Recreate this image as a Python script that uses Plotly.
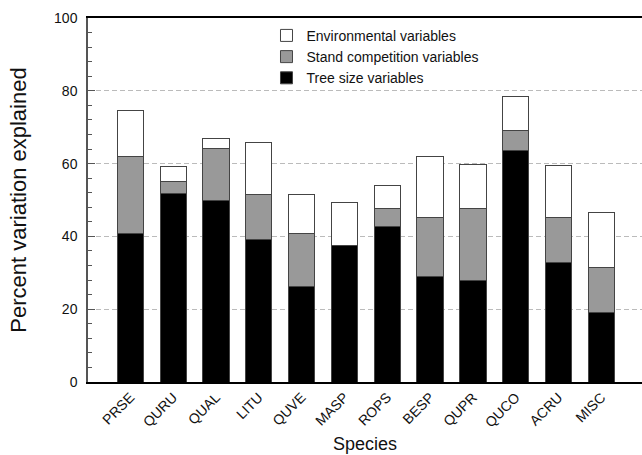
import plotly.graph_objects as go

species = ["PRSE", "QURU", "QUAL", "LITU", "QUVE", "MASP", "ROPS", "BESP", "QUPR", "QUCO", "ACRU", "MISC"]
# cumulative tops
tree_size = [40.8, 51.9, 50.0, 39.1, 26.2, 37.4, 42.6, 29.0, 28.0, 63.5, 32.7, 19.0]
stand_top = [61.9, 55.1, 64.2, 51.6, 40.9, 37.4, 47.7, 45.2, 47.7, 69.1, 45.1, 31.4]
total_top = [74.6, 59.2, 66.9, 65.9, 51.6, 49.2, 54.0, 61.9, 59.8, 78.5, 59.5, 46.6]

stand_comp = [round(s - t, 2) for s, t in zip(stand_top, tree_size)]
environ = [round(e - s, 2) for e, s in zip(total_top, stand_top)]

FONT = "Liberation Sans, Arial, Helvetica, sans-serif"
outline = dict(color="#444444", width=1)

fig = go.Figure()
fig.add_trace(go.Bar(x=species, y=tree_size, name="Tree size variables",
                     marker=dict(color="#000000", line=outline)))
fig.add_trace(go.Bar(x=species, y=stand_comp, name="Stand competition variables",
                     marker=dict(color="#999999", line=outline)))
fig.add_trace(go.Bar(x=species, y=environ, name="Environmental variables",
                     marker=dict(color="#ffffff", line=outline)))

fig.update_layout(
    width=642, height=455,
    margin=dict(l=88, r=0, t=18, b=73),
    barmode="stack", bargap=0.385,
    plot_bgcolor="white", paper_bgcolor="white",
    font=dict(family=FONT, size=13, color="#111111"),
    legend=dict(traceorder="reversed", x=0.3222, y=0.995, xanchor="left", yanchor="top",
                bgcolor="rgba(0,0,0,0)", font=dict(size=14), tracegroupgap=0,
                itemwidth=30),
    xaxis=dict(range=[-0.99, 11.95], tickangle=-45, showgrid=False, ticks="",
               showline=True, linecolor="#000000", linewidth=1.5, mirror=True,
               tickfont=dict(size=14), automargin=False,
               title=dict(text="Species", font=dict(size=18), standoff=8)),
    yaxis=dict(range=[0, 100], tickvals=[0, 20, 40, 60, 80, 100],
               showgrid=True, gridcolor="#bbbbbb", griddash="5px,3px", gridwidth=1,
               ticks="inside", ticklen=7, tickcolor="#555555", tickwidth=1,
               showline=True, linecolor="#555555", linewidth=1.5,
               zeroline=False, ticklabelstandoff=6, automargin=False,
               minor=dict(dtick=4, ticks="inside", ticklen=4, tickcolor="#555555", showgrid=False),
               tickfont=dict(size=14),
               title=dict(text="Percent variation explained", font=dict(size=22), standoff=21)),
)

fig.write_html("out.html", config={"displayModeBar": False},
               post_script="document.body.style.margin='0';")
